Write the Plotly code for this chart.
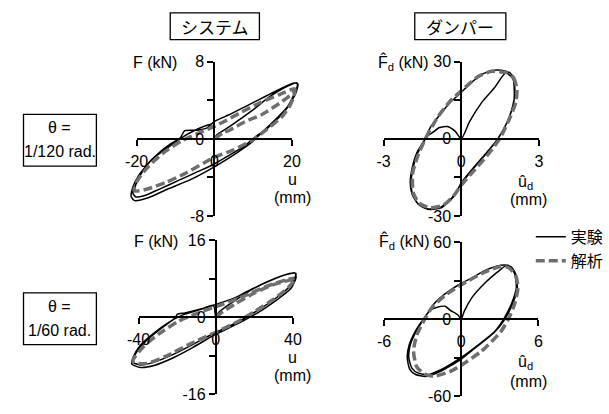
import plotly.graph_objects as go

# ---------------- data ----------------
# Top-left: system, theta = 1/120 rad   (u [mm], F [kN])
tl_exp = [(0, 0), (0.6, 0.4), (4, 1.3), (9.6, 2.9), (14, 4.3), (18, 5.3), (21.3, 5.8),
          (21.2, 5.2), (20.3, 4.4), (18.8, 3.3), (16, 2.1), (12.8, 0.9), (10.2, 0.1), (9.6, -0.1),
          (7.9, -0.7), (3.8, -1.7), (0, -2.6), (-4.3, -3.4), (-9.2, -4.3), (-14.1, -5.2),
          (-18.1, -5.9), (-20.3, -6.0), (-21.0, -5.6),
          (-20.7, -5.3), (-19.8, -4.3), (-17.3, -2.7), (-14.1, -1.4), (-11.2, -0.5), (-8.8, 0.1),
          (-7.6, 0.85), (-4.4, 0.9), (-1.9, 1.15), (0, 1.8), (3.8, 2.5), (8.7, 3.5), (13.6, 4.5),
          (17.6, 5.3), (20.5, 5.8), (21.5, 5.7),
          (21.2, 5.0), (20.0, 4.0), (18.0, 2.8), (14.5, 1.4), (11, 0.2), (9.8, -0.3), (6, -1.4),
          (0, -2.9), (-6, -4.2), (-12, -5.2), (-17, -6.1), (-20.5, -6.4), (-21.4, -6.0), (-21.0, -5.0),
          (-19.5, -3.8), (-16, -2.1), (-12.6, -1.1), (-8.9, 0.0), (-5, 0.9), (-1, 1.5), (-0.3, 1.4), (0, 0)]
tl_ana = [(0, 0), (2.2, 0.6), (3.9, 0.9), (8, 1.8), (12.1, 2.5), (16.8, 3.7), (20.1, 4.7), (20.8, 5.0),
          (20.3, 4.2), (19.4, 3.4), (17.4, 2.3), (13.6, 1.0), (9.5, -0.2), (4.6, -1.2), (0, -1.9),
          (-2.7, -2.5), (-7.6, -3.6), (-12.4, -4.5), (-17.3, -5.2), (-20.4, -5.4),
          (-20.6, -5.0), (-19.8, -4.3), (-17.3, -3.0), (-13.3, -1.5), (-8.4, -0.2), (-3.5, 0.7),
          (0, 1.3), (3, 1.9), (7.1, 2.8), (12, 3.8), (16.8, 4.6), (20.6, 5.2), (20.9, 5.0)]

# Top-right: damper, theta = 1/120 rad   (u_d [mm], F_d [kN])
tr_exp = [(0, 0), (0.32, 6.7), (0.8, 14.3), (1.29, 20), (1.72, 25.7),
          (2.0, 23.2), (2.05, 18.1), (2.02, 13.7), (1.78, 6.7), (1.41, 0), (0.93, -5.9), (0.44, -11.6),
          (0, -17.1), (-0.29, -22.4), (-0.78, -26.8), (-1.27, -27.2), (-1.63, -25.6), (-1.85, -22.4),
          (-1.94, -18), (-1.88, -12.3), (-1.70, -5.9), (-1.39, 0), (-1.21, 4.2), (-0.84, 9.2),
          (-0.41, 14.3), (0, 18.1), (0.32, 21.3), (0.80, 25.1), (1.29, 26.7), (1.72, 26.3), (1.9, 25.5),
          (2.03, 22.5), (2.07, 17.5), (1.98, 12.5), (1.75, 6), (1.40, -0.3), (0.9, -6.5), (0.4, -12.3),
          (0, -17.5), (-0.35, -22.8), (-0.85, -26.9), (-1.3, -27.4), (-1.67, -25.3), (-1.9, -21.5),
          (-1.97, -17), (-1.9, -11.5), (-1.72, -5.5), (-1.42, -0.5), (-1.3, 1.2),
          (-1.09, 2.6), (-0.84, 4.4), (-0.54, 4.8), (-0.23, 2.9), (0, 0)]
tr_ana = [(1.78, 25.7), (2.02, 23.8), (2.15, 19.4), (2.11, 14.3), (1.84, 7.3), (1.48, 0), (0.99, -6.6),
          (0.44, -12.9), (0, -18), (-0.3, -22.2), (-0.7, -25.8), (-1.21, -26.8), (-1.63, -24.9),
          (-1.85, -21.1), (-1.88, -13.5), (-1.7, -7.2), (-1.39, 0), (-0.9, 8.6), (-0.41, 14.9),
          (0, 18.7), (0.68, 24.4), (1.17, 26.3), (1.66, 25.9), (1.78, 25.7)]

# Bottom-left: system, theta = 1/60 rad
bl_exp = [(0, 0), (1.5, 1.0), (6, 2.4), (12, 4.0), (18, 5.6), (27, 7.4), (37, 8.9), (41.5, 9.1),
          (41.3, 8.5), (38.5, 6.5), (31.9, 4.2), (23.6, 1.9), (15.4, -0.1), (8.8, -1.5), (0, -3.1),
          (-12.7, -5.8), (-22.6, -7.8), (-32.6, -9.4), (-39.2, -9.9), (-43.3, -9.3),
          (-43.0, -8.7), (-40.8, -7.1), (-35.9, -4.8), (-27.6, -2.1), (-21, -0.1), (-20, 0.6),
          (-16, 0.9), (-7.8, 1.7), (0, 2.65), (8.8, 3.85), (17, 5.5), (26.9, 7.35), (36.9, 8.9), (41, 9.2),
          (41.6, 8.2), (39, 6.0), (32, 3.7), (24, 1.5), (15.4, -0.5), (8, -2.0), (0, -3.5), (-12, -6.3),
          (-22, -8.4), (-32, -10.0), (-39, -10.4), (-43.5, -9.7),
          (-42.8, -8.3), (-39.5, -6.0), (-33, -3.6), (-25, -1.2), (-17, 0.5), (-8, 1.6), (-1.5, 2.5),
          (-0.7, 2.0), (0, 0)]
bl_ana = [(0, 0), (3.8, 1.2), (10.4, 2.85), (20.3, 5.1), (30.2, 6.8), (39.3, 7.8), (40.8, 8.0),
          (40.5, 7.6), (37.7, 6.2), (30.2, 3.8), (20.3, 1.2), (10.4, -1.1), (0, -3.1), (-12.7, -5.4),
          (-26, -8.1), (-35.9, -9.6), (-42.5, -9.4),
          (-42.8, -8.8), (-37.5, -6.1), (-29.3, -3.4), (-19.3, -0.8), (-9.4, 0.86), (0, 2.2),
          (7.1, 3.2), (17, 4.8), (26.9, 6.5), (36.9, 7.8), (40.8, 8.1)]

# Bottom-right: damper, theta = 1/60 rad
br_exp = [(0, 0), (0.22, 5.9), (0.84, 16.9), (1.82, 27.9), (2.8, 36.5), (3.42, 41.4), (3.6, 42),
          (3.78, 40.9), (4.15, 35.3), (4.28, 24.3), (3.9, 12), (3.29, 0), (2.56, -10), (1.33, -19.9),
          (0, -29.7), (-1.62, -39.5), (-2.6, -43.1), (-3.34, -41.9),
          (-3.83, -38.2), (-4.08, -29.7), (-3.96, -19.9), (-3.46, -8.8), (-2.85, 1), (-2.11, 12),
          (-1.13, 20.6), (0, 27.9), (0.84, 32.1), (1.82, 37.7), (2.8, 41.4), (3.54, 41.9),
          (3.9, 40.5), (4.25, 34.5), (4.35, 23.5), (3.95, 11), (3.32, -1), (2.5, -11), (1.25, -21),
          (0, -31), (-1.7, -41), (-2.75, -44.5), (-3.55, -43),
          (-4.0, -39), (-4.2, -30), (-4.05, -20), (-3.55, -9), (-2.95, 0), (-2.4, 7),
          (-1.87, 9.3), (-1.25, 10), (-0.88, 7.1), (-0.27, 3.4), (0, 0)]
br_ana = [(3.66, 40.2), (4.23, 34), (4.4, 24.3), (4.15, 12), (3.66, 0), (3.05, -10), (1.57, -24.8),
          (0, -35.8), (-0.88, -40.7), (-2.11, -44.4), (-2.85, -42.6), (-3.46, -37), (-3.71, -24.8),
          (-3.46, -12.5), (-2.85, -0.2), (-2.24, 9.6), (-1.13, 19.4), (0, 26.7), (1.82, 36.5),
          (3.05, 40.9), (3.66, 40.2)]

# tick values / labels (labelled ticks and unlabelled half ticks)
tl_xticks, tl_yticks, tl_yminor = [-20, 0, 20], [-8, 0, 8], [-4, 4]
tr_xticks, tr_yticks, tr_yminor = [-3, 0, 3], [-30, 0, 30], [-15, 15]
bl_xticks, bl_yticks, bl_yminor = [-40, 0, 40], [-16, 0, 16], [-8, 8]
br_xticks, br_yticks, br_yminor = [-6, 0, 6], [-60, 0, 60], [-30, 30]

series_names = ["実験", "解析"]
col_titles = ["システム", "ダンパー"]
row_titles = [("θ =", "1/120 rad."), ("θ =", "1/60 rad.")]
sys_ylabel = "F (kN)"
dmp_ylabel = "F\u0302<sub>d</sub> (kN)"
sys_xlabel = "u"
dmp_xlabel = "\u00fb<sub>d</sub>"
unit_label = "(mm)"

# ---------------- layout geometry (pixels) ----------------
W, H = 609, 414
FONT = "Liberation Sans, Arial, Noto Sans CJK JP, sans-serif"
FS = 16


def px(x):
    return x / W


def py(y):
    return 1 - y / H


panels = [
    dict(exp=tl_exp, ana=tl_ana, ox=211, oy=136.5, sx=4.05, sy=10.06, xt=tl_xticks, yt=tl_yticks,
         ym=tl_yminor, ylab=sys_ylabel, ylab_pos=(149, 57), xlab=sys_xlabel, xlab_pos=(293, 179),
         unit_pos=(293, 198)),
    dict(exp=tr_exp, ana=tr_ana, ox=468.5, oy=136.5, sx=27.0, sy=2.683, xt=tr_xticks, yt=tr_yticks,
         ym=tr_yminor, ylab=dmp_ylabel, ylab_pos=(408, 57), xlab=dmp_xlabel, xlab_pos=(535, 182),
         unit_pos=(539, 200)),
    dict(exp=bl_exp, ana=bl_ana, ox=212.5, oy=322.5, sx=2.0125, sy=5.03, xt=bl_xticks, yt=bl_yticks,
         ym=bl_yminor, ylab=sys_ylabel, ylab_pos=(150, 243), xlab=sys_xlabel, xlab_pos=(293, 364),
         unit_pos=(293, 383)),
    dict(exp=br_exp, ana=br_ana, ox=468.5, oy=324.5, sx=13.42, sy=1.342, xt=br_xticks, yt=br_yticks,
         ym=br_yminor, ylab=dmp_ylabel, ylab_pos=(409, 243), xlab=dmp_xlabel, xlab_pos=(535, 370),
         unit_pos=(539, 390)),
]

fig = go.Figure()
layout = dict(
    width=W, height=H, autosize=False, margin=dict(l=0, r=0, t=0, b=0, pad=0),
    paper_bgcolor="white", plot_bgcolor="rgba(0,0,0,0)",
    font=dict(family=FONT, size=FS, color="black"),
    showlegend=True,
    legend=dict(x=px(541), y=py(221), xanchor="left", yanchor="top",
                bgcolor="rgba(0,0,0,0)", font=dict(size=FS), tracegroupgap=0,
                itemwidth=30),
)
annotations = []
shapes = []

axis_style = dict(showline=True, linewidth=2, linecolor="black", ticks="outside", ticklen=6,
                  tickwidth=2, tickcolor="black", showgrid=False, zeroline=False, fixedrange=True,
                  tickfont=dict(family=FONT, size=FS, color="black"))

for i, p in enumerate(panels):
    d = i + 1          # data axes
    v = i + 5          # display axes
    xmax = max(p["xt"])
    ymax = max(p["yt"])
    ox, oy, sx, sy = p["ox"], p["oy"], p["sx"], p["sy"]
    ydom = [py(oy + ymax * sy), py(oy - ymax * sy)]
    # invisible data axes (wider in x so loops beyond the tick range are not clipped)
    xr = 1.2 * xmax
    layout[f"xaxis{d}"] = dict(domain=[px(ox - xr * sx), px(ox + xr * sx)], range=[-xr, xr],
                               visible=False, anchor=f"y{d}", fixedrange=True)
    layout[f"yaxis{d}"] = dict(domain=ydom, range=[-ymax, ymax], visible=False,
                               anchor=f"x{d}", fixedrange=True)
    # visible axes crossing at the origin
    layout[f"xaxis{v}"] = dict(domain=[px(ox - xmax * sx), px(ox + xmax * sx)], range=[-xmax, xmax],
                               anchor="free", position=py(oy), side="bottom",
                               tickvals=p["xt"], ticktext=[str(t) for t in p["xt"]],
                               ticklabelstandoff=2, **axis_style)
    layout[f"yaxis{v}"] = dict(domain=ydom, range=[-ymax, ymax], anchor="free", position=px(ox),
                               side="left", tickvals=p["yt"], ticktext=[str(t) for t in p["yt"]],
                               minor=dict(tickvals=p["ym"], ticks="outside", ticklen=6, tickwidth=2,
                                          tickcolor="black", showgrid=False),
                               **axis_style)
    fig.add_trace(go.Scatter(x=[None], y=[None], xaxis=f"x{v}", yaxis=f"y{v}",
                             showlegend=False, hoverinfo="skip"))

    ex, ey = zip(*p["exp"])
    ax_, ay_ = zip(*p["ana"])
    fig.add_trace(go.Scatter(x=ex, y=ey, xaxis=f"x{d}", yaxis=f"y{d}", mode="lines",
                             line=dict(color="black", width=1.5, shape="spline", smoothing=0.6),
                             name=series_names[0], legendgroup="exp", showlegend=(i == 0)))
    fig.add_trace(go.Scatter(x=ax_, y=ay_, xaxis=f"x{d}", yaxis=f"y{d}", mode="lines",
                             line=dict(color="#6f6f6f", width=3.5, dash="9px,4px",
                                       shape="spline", smoothing=0.6),
                             name=series_names[1], legendgroup="ana", showlegend=(i == 0)))

    # axis labels
    annotations.append(dict(x=px(p["ylab_pos"][0]), y=py(p["ylab_pos"][1]), xref="paper", yref="paper",
                            text=p["ylab"], showarrow=False, xanchor="center", yanchor="middle",
                            font=dict(size=FS)))
    annotations.append(dict(x=px(p["xlab_pos"][0]), y=py(p["xlab_pos"][1]), xref="paper", yref="paper",
                            text=p["xlab"], showarrow=False, xanchor="center", yanchor="middle",
                            font=dict(size=FS)))
    annotations.append(dict(x=px(p["unit_pos"][0]), y=py(p["unit_pos"][1]), xref="paper", yref="paper",
                            text=unit_label, showarrow=False, xanchor="center", yanchor="middle",
                            font=dict(size=FS)))

# column title boxes
for title, (x0, x1) in zip(col_titles, [(165, 258), (420, 515)]):
    shapes.append(dict(type="rect", xref="paper", yref="paper", x0=px(x0), x1=px(x1),
                       y0=py(33), y1=py(5), line=dict(color="black", width=1.3)))
    annotations.append(dict(x=px((x0 + x1) / 2), y=py(19.5), xref="paper", yref="paper", text=title,
                            showarrow=False, xanchor="center", yanchor="middle",
                            font=dict(size=17, family="Noto Sans CJK JP")))

# row title boxes
for (l1, l2), (y0, y1) in zip(row_titles, [(111, 165), (297, 351)]):
    shapes.append(dict(type="rect", xref="paper", yref="paper", x0=px(12), x1=px(88),
                       y0=py(y1), y1=py(y0), line=dict(color="black", width=1.3)))
    annotations.append(dict(x=px(50), y=py(y0 + 14), xref="paper", yref="paper", text=l1,
                            showarrow=False, xanchor="center", yanchor="middle", font=dict(size=FS)))
    annotations.append(dict(x=px(50), y=py(y0 + 39), xref="paper", yref="paper", text=l2,
                            showarrow=False, xanchor="center", yanchor="middle", font=dict(size=FS)))

layout["annotations"] = annotations
layout["shapes"] = shapes
fig.update_layout(**layout)

page_fix = ("document.documentElement.style.margin='0';document.documentElement.style.overflow='hidden';"
            "document.body.style.margin='0';document.body.style.overflow='hidden';"
            "var g=document.getElementById('{plot_id}');g.style.position='absolute';"
            "g.style.left='0px';g.style.top='0px';")
fig.write_html("out.html", config={"displayModeBar": False}, post_script=page_fix)
